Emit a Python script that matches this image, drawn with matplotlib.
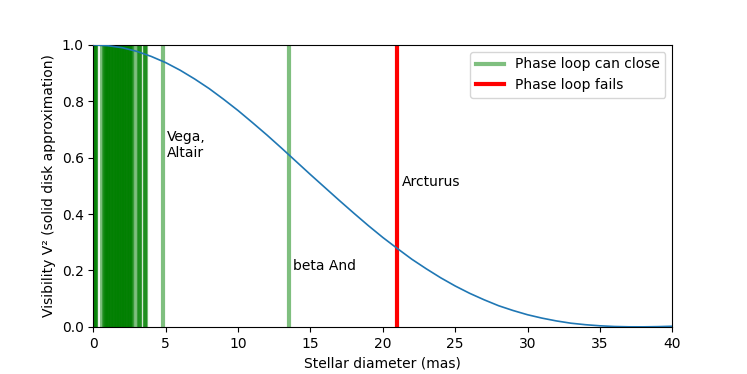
import numpy as np
import matplotlib
matplotlib.use('Agg')
import matplotlib.pyplot as plt
from matplotlib.lines import Line2D

# ── Data ──────────────────────────────────────────────────────────────────────
diam_mas = list(range(0, 41))
vis2 = [1.000, 0.997, 0.990, 0.977, 0.959, 0.937, 0.910, 0.879, 0.845, 0.807,
        0.767, 0.724, 0.680, 0.634, 0.587, 0.540, 0.494, 0.448, 0.403, 0.359,
        0.317, 0.278, 0.240, 0.206, 0.174, 0.145, 0.119, 0.096, 0.075, 0.058,
        0.043, 0.031, 0.021, 0.013, 0.0077, 0.0038, 0.0013, 0.0002, 0.0001,
        0.0008, 0.0022]

# stars whose phase loop can close (diameters in mas)
ok_diams = [0.05, 0.08, 0.12, 0.18, 0.2, 0.58,
            0.76, 0.8, 0.85, 0.9, 0.95, 1.0, 1.03, 1.1, 1.15, 1.2, 1.25, 1.3,
            1.35, 1.4, 1.45, 1.5, 1.55, 1.6, 1.65, 1.7, 1.75, 1.8, 1.85, 1.9,
            1.95, 2.0, 2.05, 2.1, 2.15, 2.2, 2.25, 2.3, 2.35, 2.4, 2.45, 2.5,
            2.55, 2.6, 2.65, 2.7, 2.95, 3.15, 3.2, 3.25, 3.55, 3.6, 3.65,
            4.8, 13.5]
# stars where it fails
fail_diams = [21.0]

labels = ['Vega,\nAltair', 'beta And', 'Arcturus']
label_x = [4.8, 13.5, 21.0]
label_y = [0.645, 0.216, 0.515]

# ── Figure ────────────────────────────────────────────────────────────────────
fig, ax = plt.subplots(figsize=(7.47, 3.74), dpi=100)
fig.subplots_adjust(left=0.125, right=0.9, top=0.88, bottom=0.126)

for d in ok_diams:
    ax.axvline(d, color='green', alpha=0.5, lw=3, zorder=1)
for d in fail_diams:
    ax.axvline(d, color='red', lw=3, zorder=1)

ax.plot(diam_mas, vis2, color='#1f77b4', lw=1.2, zorder=3)

for txt, x, y in zip(labels, label_x, label_y):
    ax.text(x + 0.3, y, txt, ha='left', va='center', fontsize=10)

ax.set_xlim(0, 40)
ax.set_ylim(0, 1)
ax.set_xlabel('Stellar diameter (mas)')
ax.set_ylabel('Visibility V² (solid disk approximation)')

handles = [Line2D([], [], color='green', alpha=0.5, lw=3),
           Line2D([], [], color='red', lw=3)]
ax.legend(handles, ['Phase loop can close', 'Phase loop fails'], loc='upper right')

fig.savefig('out.png', dpi=100)
